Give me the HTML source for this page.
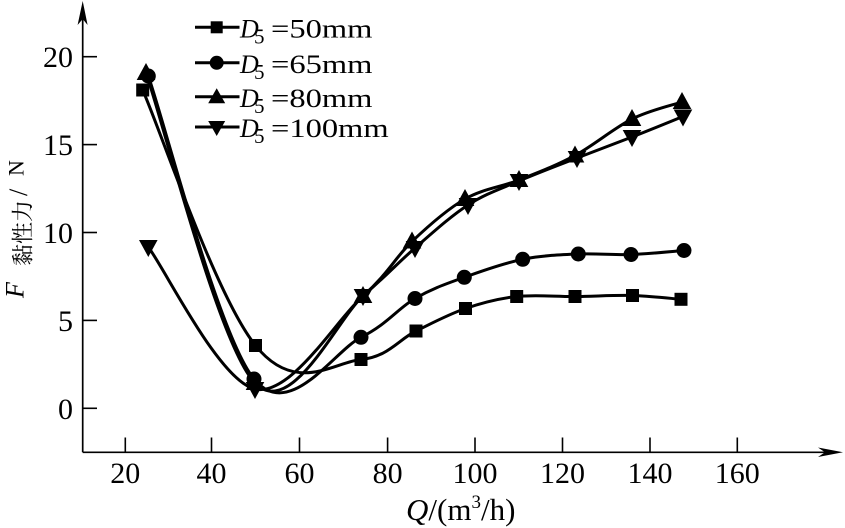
<!DOCTYPE html>
<html>
<head>
<meta charset="utf-8">
<style>
  html, body { margin: 0; padding: 0; background: #fff; }
  svg { display: block; }
  text { font-family: "Liberation Serif", "Noto Serif CJK SC", serif; fill: #000; }
</style>
</head>
<body>
<svg width="845" height="528" viewBox="0 0 845 528" xmlns="http://www.w3.org/2000/svg">
  <rect x="0" y="0" width="845" height="528" fill="#fff"/>

  <!-- Axes -->
  <line x1="82.7" y1="452.3" x2="830" y2="452.3" stroke="#000" stroke-width="1.7"/>
  <path d="M843,452.3 L818,447.5 L825,452.3 L818,457 Z" fill="#000"/>
  <line x1="82.7" y1="452.3" x2="82.7" y2="15" stroke="#000" stroke-width="1.7"/>
  <path d="M82.7,1 L77.6,25 L82.7,19 L87.6,25 Z" fill="#000"/>

  <!-- Y ticks -->
  <g stroke="#000" stroke-width="1.6">
    <line x1="82.7" y1="408.3" x2="97" y2="408.3"/>
    <line x1="82.7" y1="320.4" x2="97" y2="320.4"/>
    <line x1="82.7" y1="232.5" x2="97" y2="232.5"/>
    <line x1="82.7" y1="144.6" x2="97" y2="144.6"/>
    <line x1="82.7" y1="56.7" x2="97" y2="56.7"/>
  </g>
  <g font-size="30" text-anchor="end">
    <text x="73" y="419">0</text>
    <text x="73" y="331">5</text>
    <text x="73" y="243">10</text>
    <text x="73" y="155">15</text>
    <text x="73" y="67">20</text>
  </g>

  <!-- X ticks -->
  <g stroke="#000" stroke-width="1.6">
    <line x1="125.3" y1="452.3" x2="125.3" y2="437.5"/>
    <line x1="211.5" y1="452.3" x2="211.5" y2="437.5"/>
    <line x1="299.5" y1="452.3" x2="299.5" y2="437.5"/>
    <line x1="387.6" y1="452.3" x2="387.6" y2="437.5"/>
    <line x1="475" y1="452.3" x2="475" y2="437.5"/>
    <line x1="562.5" y1="452.3" x2="562.5" y2="437.5"/>
    <line x1="650" y1="452.3" x2="650" y2="437.5"/>
    <line x1="737.3" y1="452.3" x2="737.3" y2="437.5"/>
  </g>
  <g font-size="30" text-anchor="middle">
    <text x="125.3" y="483">20</text>
    <text x="211.5" y="483">40</text>
    <text x="299.5" y="483">60</text>
    <text x="387.6" y="483">80</text>
    <text x="475" y="483">100</text>
    <text x="562.5" y="483">120</text>
    <text x="650" y="483">140</text>
    <text x="737.3" y="483">160</text>
  </g>

  <!-- X axis title -->
  <text x="406" y="520" font-size="31"><tspan font-style="italic">Q</tspan>/(m<tspan font-size="19" dy="-12">3</tspan><tspan dy="12">/h)</tspan></text>

  <!-- Y axis title (rotated) -->
  <text transform="translate(23.5,298) rotate(-90)" font-size="26" font-style="italic">F</text>
  <text transform="translate(30.5,266) rotate(-90)" font-size="22" font-family="'Noto Serif CJK SC', 'Noto Sans CJK SC', serif">黏性力</text>
  <text transform="translate(27,196) rotate(-90)" font-size="26">/</text>
  <text transform="translate(23.5,176) rotate(-90)" font-size="22">N</text>

  <!-- Curves -->
  <g fill="none" stroke="#000" stroke-width="3" stroke-linejoin="round" stroke-linecap="round">
    <!-- 50mm -->
    <path d="M142.7,90 C161.5,132.6 215.5,295.5 255.5,345.5
             C295.5,395.5 334.25,361.9 361,359.5
             C387.75,357.1 398.6,339.5 416,331
             C433.4,322.5 448.7,314.25 465.5,308.5
             C482.3,302.75 498.45,298.5 516.7,296.5
             C534.95,294.5 555.7,296.67 575,296.5
             C594.3,296.33 614.8,295.03 632.5,295.5
             C650.2,295.97 672.9,298.67 681,299.3"/>
    <!-- 65mm -->
    <path d="M148.3,76 C165.9,126.5 218.55,335.45 254,379
             C289.45,422.55 334.2,350.7 361,337.3
             C387.8,323.9 397.8,308.5 415,298.5
             C432.2,288.5 446.35,283.83 464.3,277.3
             C482.25,270.77 503.7,263.18 522.7,259.3
             C541.7,255.42 560.25,254.8 578.3,254
             C596.35,253.2 613.4,255.08 631,254.5
             C648.6,253.92 675.2,251.17 684,250.5"/>
    <!-- 80mm -->
    <path d="M146,73 C164.2,124.7 218.8,345.8 255,383
             C291.2,420.2 336.8,319.6 363,296
             C389.2,272.4 395,257.7 412,241.5
             C429,225.3 447.2,209.25 465,199
             C482.8,188.75 500.7,187.25 519,180
             C537.3,172.75 556.2,165.7 575,155.5
             C593.8,145.3 614.2,127.9 632,119
             C649.8,110.1 673.7,104.8 682,102"/>
    <!-- 100mm -->
    <path d="M148.3,247 C166.1,270.7 219.2,380.8 255,389
             C290.8,397.2 336.3,319.5 363,296
             C389.7,272.5 397.5,263.2 415,248
             C432.5,232.8 450.7,216.2 468,205
             C485.3,193.8 500.8,188.8 519,181
             C537.2,173.2 558.2,165.3 577,158
             C595.8,150.7 614.3,143.9 632,137
             C649.7,130.1 674.5,119.9 683,116.5"/>
  </g>

  <!-- Markers: squares (50mm) -->
  <g fill="#000">
    <rect x="136.2" y="83.5" width="13" height="13"/>
    <rect x="249" y="339" width="13" height="13"/>
    <rect x="354.5" y="353" width="13" height="13"/>
    <rect x="409.5" y="324.5" width="13" height="13"/>
    <rect x="459" y="302" width="13" height="13"/>
    <rect x="510.2" y="290" width="13" height="13"/>
    <rect x="568.5" y="290" width="13" height="13"/>
    <rect x="626" y="289" width="13" height="13"/>
    <rect x="674.5" y="292.8" width="13" height="13"/>
  </g>
  <!-- circles (65mm) -->
  <g fill="#000">
    <circle cx="148.3" cy="76" r="7.5"/>
    <circle cx="254" cy="379" r="7.5"/>
    <circle cx="361" cy="337.3" r="7.5"/>
    <circle cx="415" cy="298.5" r="7.5"/>
    <circle cx="464.3" cy="277.3" r="7.5"/>
    <circle cx="522.7" cy="259.3" r="7.5"/>
    <circle cx="578.3" cy="254" r="7.5"/>
    <circle cx="631" cy="254.5" r="7.5"/>
    <circle cx="684" cy="250.5" r="7.5"/>
  </g>
  <!-- up triangles (80mm) -->
  <g fill="#000">
    <polygon points="146,63 136.7,80 155.3,80"/>
    <polygon points="255,373 245.7,390 264.3,390"/>
    <polygon points="363,286 353.7,303 372.3,303"/>
    <polygon points="412,231.5 402.7,248.5 421.3,248.5"/>
    <polygon points="465,189 455.7,206 474.3,206"/>
    <polygon points="519,170 509.7,187 528.3,187"/>
    <polygon points="575,145.5 565.7,162.5 584.3,162.5"/>
    <polygon points="632,109 622.7,126 641.3,126"/>
    <polygon points="682,92 672.7,109 691.3,109"/>
  </g>
  <!-- down triangles (100mm) -->
  <g fill="#000">
    <polygon points="139,240 157.6,240 148.3,257"/>
    <polygon points="245.7,382 264.3,382 255,399"/>
    <polygon points="353.7,289 372.3,289 363,306"/>
    <polygon points="405.7,241 424.3,241 415,258"/>
    <polygon points="458.7,198 477.3,198 468,215"/>
    <polygon points="509.7,174 528.3,174 519,191"/>
    <polygon points="567.7,151 586.3,151 577,168"/>
    <polygon points="622.7,130 641.3,130 632,147"/>
    <polygon points="673.7,109.5 692.3,109.5 683,126.5"/>
  </g>

  <!-- Legend -->
  <g stroke="#000" stroke-width="3">
    <line x1="195" y1="27.3" x2="239.5" y2="27.3"/>
    <line x1="195" y1="62.8" x2="239.5" y2="62.8"/>
    <line x1="195" y1="96.8" x2="239.5" y2="96.8"/>
    <line x1="195" y1="127" x2="239.5" y2="127"/>
  </g>
  <g fill="#000">
    <rect x="210.7" y="21.3" width="12" height="12"/>
    <circle cx="216.7" cy="62.8" r="7"/>
    <polygon points="216.7,88.3 208.2,103.3 225.2,103.3"/>
    <polygon points="208.2,121 225.2,121 216.7,136"/>
  </g>
  <g font-size="26">
    <text x="240" y="37.3" font-style="italic">D</text>
    <text x="254" y="43.5" font-size="21">5</text>
    <text transform="translate(271,37.3) scale(1.25,1)">=50mm</text>

    <text x="240" y="72.8" font-style="italic">D</text>
    <text x="254" y="79" font-size="21">5</text>
    <text transform="translate(271,72.8) scale(1.25,1)">=65mm</text>

    <text x="240" y="106.8" font-style="italic">D</text>
    <text x="254" y="113" font-size="21">5</text>
    <text transform="translate(271,106.8) scale(1.25,1)">=80mm</text>

    <text x="240" y="137" font-style="italic">D</text>
    <text x="254" y="143.2" font-size="21">5</text>
    <text transform="translate(271,137) scale(1.25,1)">=100mm</text>
  </g>
</svg>
</body>
</html>
